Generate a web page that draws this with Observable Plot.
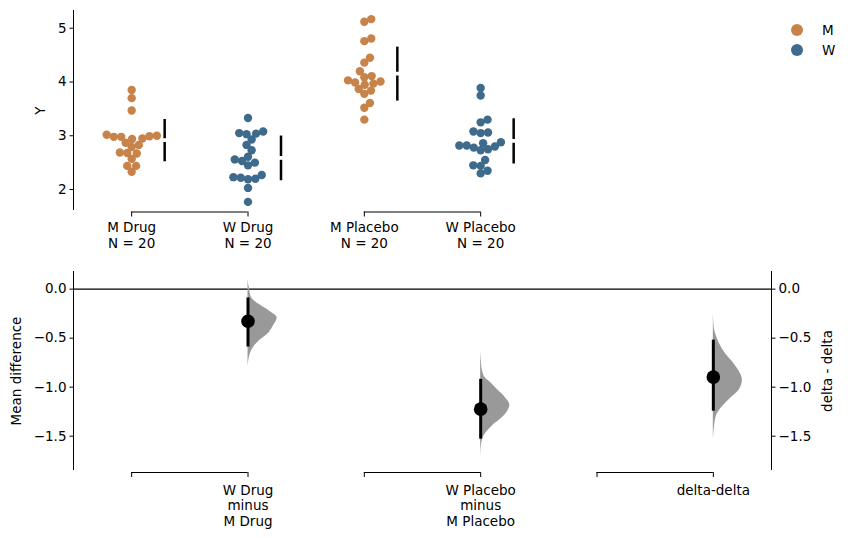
<!DOCTYPE html>
<html><head><meta charset="utf-8">
<script src="https://cdn.jsdelivr.net/npm/d3@7"></script>
<script src="https://cdn.jsdelivr.net/npm/@observablehq/plot@0.6"></script>
<style>
body{margin:0;background:#fff;font-family:"DejaVu Sans",sans-serif;}
#wrap{position:relative;width:851px;height:538px;overflow:hidden;}
svg{display:block;}
#legend{position:absolute;left:790px;top:20px;font-size:13.5px;color:#000;}
.li{display:flex;align-items:center;height:20px;}
.li svg{margin-right:18px;}
</style></head><body>
<div id="wrap"><div id="top"></div><div id="bottom"></div><div id="legend"></div></div>
<script>
// ---------- data ----------
const groups = ["M Drug", "W Drug", "M Placebo", "W Placebo"];
const groupSex = ["M", "W", "M", "W"];
const sexes = ["M", "W"];
const sexColors = ["#c8834a", "#3e6b8c"];

const mDrug = [3.85, 3.70, 3.47, 3.00, 2.99, 2.98, 2.94, 2.95, 2.98, 3.02, 2.87, 2.83, 2.79, 2.68, 2.67, 2.69, 2.57, 2.44, 2.44, 2.33];
const wDrug = [3.33, 3.08, 3.05, 3.03, 3.04, 2.45, 2.93, 2.83, 2.73, 2.56, 2.50, 2.19, 2.53, 2.61, 2.27, 2.20, 2.22, 2.23, 2.03, 1.77];
const mPlacebo = [5.17, 5.12, 4.81, 4.76, 4.45, 4.36, 4.20, 4.01, 4.03, 4.09, 4.11, 3.99, 3.95, 3.97, 3.87, 3.78, 3.84, 3.52, 3.61, 3.30];
const wPlacebo = [3.89, 3.75, 3.30, 3.25, 3.06, 3.05, 3.08, 2.88, 2.86, 2.82, 2.80, 2.78, 2.75, 2.73, 2.82, 2.55, 2.45, 2.44, 2.35, 2.30];
const groupValues = [mDrug, wDrug, mPlacebo, wPlacebo];

const effectLabels = ["W Drug\nminus\nM Drug", "W Placebo\nminus\nM Placebo", "delta-delta"];
const effectDiff = [-0.327, -1.224, -0.897];
const effectLow = [-0.59, -1.53, -1.245];
const effectHigh = [-0.09, -0.92, -0.52];
// bootstrap density profiles: [value, relative density]
const violin1 = [[0.11,0],[0.05,0.02],[0.007,0.05],[-0.05,0.08],[-0.095,0.14],[-0.163,0.42],[-0.23,0.77],[-0.29,1.0],[-0.367,0.89],[-0.45,0.71],[-0.52,0.42],[-0.59,0.2],[-0.66,0.08],[-0.74,0.02],[-0.79,0]];
const violin2 = [[-0.62,0],[-0.72,0.02],[-0.83,0.06],[-0.895,0.14],[-0.96,0.37],[-1.03,0.59],[-1.10,0.83],[-1.18,1.0],[-1.25,0.92],[-1.32,0.71],[-1.39,0.42],[-1.46,0.2],[-1.52,0.08],[-1.61,0.02],[-1.74,0]];
const violin3 = [[-0.25,0],[-0.35,0.02],[-0.42,0.045],[-0.55,0.2],[-0.66,0.42],[-0.76,0.71],[-0.86,0.93],[-0.93,1.0],[-1.03,0.89],[-1.115,0.59],[-1.20,0.31],[-1.29,0.11],[-1.39,0.045],[-1.46,0.02],[-1.54,0]];
const violins = [violin1, violin2, violin3];

const topTicks = [2, 3, 4, 5];
const deltaTicks = [0, -0.5, -1.0, -1.5];

// ---------- layout ----------
const W = 851, ML = 73, MR = 80;
const xDom = [-0.5, 5.5];
const pxPerX = (W - ML - MR) / (xDom[1] - xDom[0]);
const topH = 255, topMT = 10, topMB = 45;
const yTopDom = [1.61, 5.33];
const pxPerYTop = (topH - topMT - topMB) / (yTopDom[1] - yTopDom[0]);
const botH = 283, botMT = 16, botMB = 68;
const yBotDom = [-1.85, 0.18];
const groupSlots = [0, 1, 2, 3];
const effectSlots = [1, 3, 5];
const font = {fontFamily: "'DejaVu Sans', sans-serif", fontSize: "13.5px", background: "white", color: "black", overflow: "visible"};

// beeswarm layout
const diam = 7.4;
const points = [];
groupValues.forEach((vals, g) => {
  const order = vals.map((v, i) => i).sort((a, b) => vals[a] - vals[b]);
  const placed = [];
  for (const i of order) {
    const py = vals[i] * pxPerYTop;
    const cands = [0];
    for (const p of placed) {
      const dy = Math.abs(p.py - py);
      if (dy < diam) { const dx = Math.sqrt(diam * diam - dy * dy); cands.push(p.px + dx, p.px - dx); }
    }
    cands.sort((a, b) => Math.abs(a) - Math.abs(b));
    let chosen = 0;
    for (const c of cands) {
      if (placed.every(p => (p.px - c) ** 2 + (p.py - py) ** 2 >= diam * diam - 1e-6)) { chosen = c; break; }
    }
    placed.push({px: chosen, py});
    points.push({x: groupSlots[g] + chosen / pxPerX, value: vals[i], sex: groupSex[g]});
  }
});

const stats = groupValues.map((v, g) => {
  const m = d3.mean(v), s = d3.deviation(v);
  return {slot: groupSlots[g], mean: m, sd: s};
});
const gap = 0.035;

const topPairs = [[0, 1], [2, 3]];
const botPairs = [[0, 1], [2, 3], [4, 5]];

// ---------- top panel ----------
const topPlot = Plot.plot({
  width: W, height: topH, marginLeft: ML, marginRight: MR, marginTop: topMT, marginBottom: topMB,
  style: font,
  x: {domain: xDom, axis: null},
  y: {domain: yTopDom},
  color: {domain: sexes, range: sexColors},
  marks: [
    Plot.ruleX([xDom[0]], {stroke: "black", strokeWidth: 1}),
    Plot.axisY({ticks: topTicks, tickFormat: "d", tickSize: 3.5, tickPadding: 3.5, label: "Y", labelAnchor: "center", labelArrow: "none", labelOffset: 38, fill: "black"}),
    Plot.dot(points, {x: "x", y: "value", fill: "sex", r: 4.2, stroke: null}),
    Plot.ruleX(stats, {x: "slot", y1: d => d.mean - d.sd, y2: d => d.mean - gap, dx: 33, stroke: "black", strokeWidth: 2.5}),
    Plot.ruleX(stats, {x: "slot", y1: d => d.mean + gap, y2: d => d.mean + d.sd, dx: 33, stroke: "black", strokeWidth: 2.5}),
    Plot.ruleY(topPairs, {x1: d => d[0], x2: d => d[1], y: yTopDom[0], dy: 1.5, stroke: "black", strokeWidth: 1}),
    Plot.ruleX(topPairs.flat(), {x: d => d, y1: yTopDom[0], y2: yTopDom[0], dy: 1.5, insetBottom: -5, stroke: "black", strokeWidth: 1}),
    Plot.text(groups, {x: (d, i) => groupSlots[i], text: (d, i) => `${d}\nN = ${groupValues[i].length}`, frameAnchor: "bottom", lineAnchor: "top", dy: 11, lineHeight: 1.13, fill: "black"})
  ]
});
document.getElementById("top").appendChild(topPlot);

// ---------- bottom panel ----------
const violinWidth = 0.25;
const violinData = violins.flatMap((prof, k) => prof.map(([v, d]) => ({k, slot: effectSlots[k], v, d})));
const effects = effectDiff.map((d, k) => ({slot: effectSlots[k], diff: d, lo: effectLow[k], hi: effectHigh[k], label: effectLabels[k]}));

const botPlot = Plot.plot({
  width: W, height: botH, marginLeft: ML, marginRight: MR, marginTop: botMT, marginBottom: botMB,
  style: font,
  x: {domain: xDom, axis: null},
  y: {domain: yBotDom},
  marks: [
    Plot.ruleX([xDom[0], xDom[1]], {stroke: "black", strokeWidth: 1}),
    Plot.ruleY([0], {stroke: "black", strokeWidth: 1.1}),
    Plot.areaX(violinData, {y: "v", x1: "slot", x2: d => d.slot + d.d * violinWidth, z: "k", fill: "#999999", curve: "catmull-rom"}),
    Plot.ruleX(effects, {x: "slot", y1: "lo", y2: "hi", stroke: "black", strokeWidth: 3}),
    Plot.dot(effects, {x: "slot", y: "diff", r: 6.8, fill: "black", stroke: null}),
    Plot.axisY({anchor: "left", ticks: deltaTicks, tickFormat: d3.format(".1f"), tickSize: 3.5, tickPadding: 3.5, label: "Mean difference", labelAnchor: "center", labelArrow: "none", labelOffset: 62, fill: "black"}),
    Plot.axisY({anchor: "right", ticks: deltaTicks, tickFormat: d3.format(".1f"), tickSize: 3.5, tickPadding: 3.5, label: "delta - delta", labelAnchor: "center", labelArrow: "none", labelOffset: 60, fill: "black"}),
    Plot.ruleY(botPairs, {x1: d => d[0], x2: d => d[1], y: yBotDom[0], dy: 2, stroke: "black", strokeWidth: 1}),
    Plot.ruleX(botPairs.flat(), {x: d => d, y1: yBotDom[0], y2: yBotDom[0], dy: 2, insetBottom: -5, stroke: "black", strokeWidth: 1}),
    Plot.text(effects, {x: "slot", text: "label", frameAnchor: "bottom", lineAnchor: "top", dy: 13, lineHeight: 1.15, fill: "black"})
  ]
});
document.getElementById("bottom").appendChild(botPlot);

// ---------- legend ----------
const leg = document.getElementById("legend");
sexes.forEach((s, i) => {
  const row = document.createElement("div");
  row.className = "li";
  row.innerHTML = `<svg width="14" height="14"><circle cx="7" cy="7" r="6" fill="${sexColors[i]}"></circle></svg><span>${s}</span>`;
  leg.appendChild(row);
});
</script></body></html>
